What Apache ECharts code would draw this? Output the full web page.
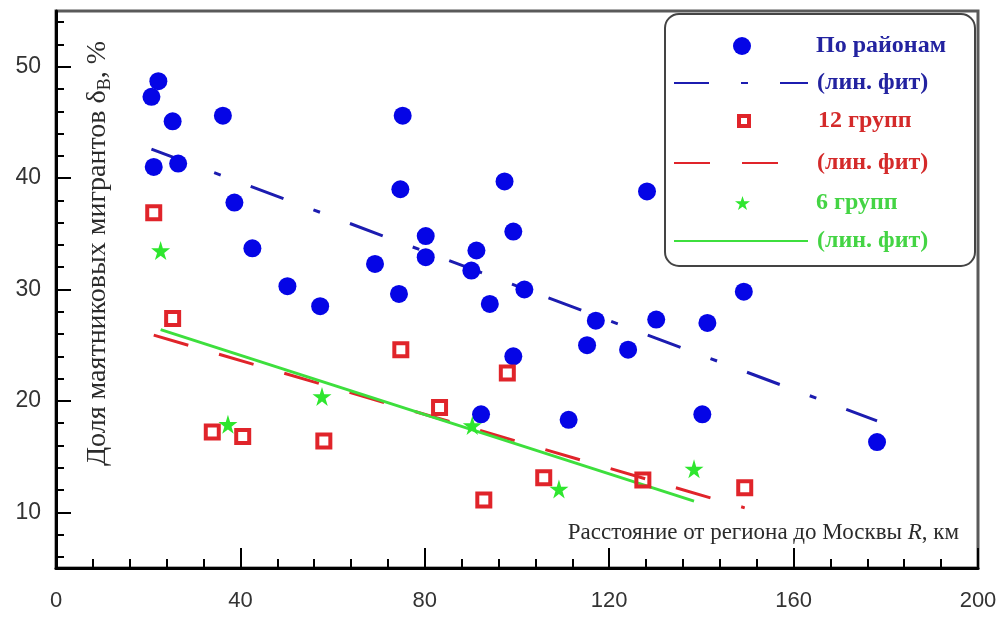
<!DOCTYPE html>
<html><head><meta charset="utf-8">
<script src="https://cdn.jsdelivr.net/npm/echarts@6/dist/echarts.min.js"></script>
<style>html,body{margin:0;padding:0;background:#fff}#c{width:1003px;height:617px}</style>
</head><body><div id="c"></div>
<script>
// ---- tick labels ----
const yMajorTicks = [10, 20, 30, 40, 50];
const yMinorTicks = [6, 8, 12, 14, 16, 18, 22, 24, 26, 28, 32, 34, 36, 38, 42, 44, 46, 48, 52, 54];

// ---- По районам (districts) ----
const districtsR = [20.7, 21.2, 22.2, 25.3, 26.5, 36.2, 38.7, 42.6, 50.2, 57.3, 69.2, 74.4, 74.7, 75.2, 80.2, 80.2, 90.1, 91.2, 92.2, 94.1, 97.3, 99.2, 99.2, 101.6, 111.2, 115.2, 117.1, 124.1, 128.2, 130.2, 140.2, 141.3, 149.2, 178.1];
const districtsShare = [47.3, 41.0, 48.7, 45.1, 41.3, 45.6, 37.8, 33.7, 30.3, 28.5, 32.3, 29.6, 39.0, 45.6, 34.8, 32.9, 31.7, 33.5, 18.8, 28.7, 39.7, 35.2, 24.0, 30.0, 18.3, 25.0, 27.2, 24.6, 38.8, 27.3, 18.8, 27.0, 29.8, 16.3];

// ---- 12 групп ----
const groups12R = [21.2, 25.3, 33.9, 40.5, 58.1, 74.8, 83.2, 92.8, 97.9, 105.8, 127.3, 149.4];
const groups12Share = [36.9, 27.4, 17.2, 16.8, 16.4, 24.6, 19.4, 11.1, 22.5, 13.1, 12.9, 12.2];

// ---- 6 групп ----
const groups6R = [22.7, 37.3, 57.7, 90.3, 109.1, 138.4];
const groups6Share = [33.5, 17.9, 20.4, 17.8, 12.1, 13.9];

// ---- linear fits (end points) ----
const fitDistrictsR = [20.7, 178.1];
const fitDistrictsShare = [42.6, 18.2];
const fit12R = [21.2, 149.4];
const fit12Share = [25.9, 10.4];
const fit6R = [22.7, 138.4];
const fit6Share = [26.4, 11.0];

const zip = (a, b) => a.map((v, i) => [v, b[i]]);

const BLUE = '#0505e6', BLUE_LINE = '#1c1cb0', BLUE_TEXT = '#2323a0';
const RED = '#e0242a', RED_TEXT = '#d42a2a';
const GREEN = '#2ee62e', GREEN_LINE = '#3ddf3d', GREEN_TEXT = '#44d444';
const STAR = 'path://M50,0 L61,35 L98,35 L68,57 L79,91 L50,70 L21,91 L32,57 L2,35 L39,35 Z';

const FIT = '(лин. фит)';
const nFitB = FIT + ' По районам', nFitR = FIT + ' 12 групп', nFitG = FIT + ' 6 групп';
const HIDE = { color: 'rgba(0,0,0,0)', borderColor: 'rgba(0,0,0,0)', borderWidth: 0 };

function mkLegend(item, left, top, w, h, color, padLeft, fmt) {
  const l = {
    data: [item], left: left, top: top, itemWidth: w, itemHeight: h, padding: 0,
    selectedMode: false, symbolKeepAspect: true,
    textStyle: {
      color: color, fontFamily: 'Liberation Serif', fontWeight: 'bold', fontSize: 24,
      lineHeight: 28, padding: [0, 0, 0, padLeft]
    }
  };
  if (fmt) l.formatter = fmt;
  return l;
}

const chart = echarts.init(document.getElementById('c'), null, {renderer: 'canvas'});
chart.setOption({
  animation: false,
  backgroundColor: '#fff',
  grid: {
    left: 56, right: 25, top: 11, bottom: 49, show: true,
    borderColor: '#5a5a5a', borderWidth: 3, containLabel: false, outerBoundsMode: 'none'
  },
  xAxis: {
    type: 'value', min: 0, max: 200, interval: 40,
    name: '{t|Расстояние от региона до Москвы }{i|R}{t|, км}',
    nameLocation: 'end', nameGap: -19, nameMoveOverlap: false,
    nameTextStyle: {
      fontFamily: 'Liberation Serif', fontSize: 23, color: '#2b2b2b',
      align: 'right', verticalAlign: 'middle', padding: [0, 0, 70, 0],
      rich: { t: {}, i: { fontStyle: 'italic' } }
    },
    axisLine: { show: true, lineStyle: { color: '#000', width: 3 } },
    axisTick: { show: true, inside: true, length: 20, lineStyle: { color: '#000', width: 2 } },
    minorTick: { show: true, splitNumber: 5, length: 9, lineStyle: { color: '#000', width: 2 } },
    axisLabel: { fontFamily: 'Liberation Sans', fontSize: 22, color: '#333', margin: 22 },
    splitLine: { show: false }
  },
  yAxis: [{
    type: 'value', min: 5, max: 55, position: 'left',
    name: '{t|Доля маятниковых мигрантов δ}{s|В}{t|, %}',
    nameLocation: 'middle', nameGap: -42, nameMoveOverlap: false,
    nameTextStyle: {
      fontFamily: 'Liberation Serif', fontSize: 28, color: '#2b2b2b',
      verticalAlign: 'middle', align: 'center', padding: [0, 0, 0, 72],
      rich: { t: { lineHeight: 32 }, s: { fontSize: 18, lineHeight: 14, verticalAlign: 'bottom' } }
    },
    axisLine: { show: true, lineStyle: { color: '#000', width: 3 } },
    axisTick: { show: true, inside: true, length: 15, customValues: yMajorTicks, lineStyle: { color: '#000', width: 2 } },
    axisLabel: { customValues: yMajorTicks, fontFamily: 'Liberation Sans', fontSize: 23, color: '#333', margin: 15 },
    splitLine: { show: false }
  }, {
    type: 'value', min: 5, max: 55, position: 'left',
    axisLine: { show: false },
    axisTick: { show: true, inside: true, length: 8, customValues: yMinorTicks, lineStyle: { color: '#000', width: 2 } },
    axisLabel: { show: false },
    splitLine: { show: false }
  }],
  legend: [
    mkLegend({ name: 'По районам', icon: 'circle', itemStyle: { color: BLUE, opacity: 1 } }, 733, 32, 18, 18, BLUE_TEXT, 60),
    mkLegend({ name: nFitB, itemStyle: HIDE }, 673, 69, 134, 14, BLUE_TEXT, 4, FIT),
    mkLegend({ name: '12 групп', icon: 'rect', itemStyle: { color: 'rgba(0,0,0,0)', borderColor: RED, borderWidth: 4, opacity: 1 } }, 737, 107, 10, 10, RED_TEXT, 64),
    mkLegend({ name: nFitR, itemStyle: HIDE }, 673, 149, 134, 14, RED_TEXT, 4, FIT),
    mkLegend({ name: '6 групп', icon: STAR, itemStyle: { color: GREEN, opacity: 1 } }, 735, 189, 15, 15, GREEN_TEXT, 61),
    mkLegend({ name: nFitG, itemStyle: HIDE }, 673, 227, 134, 14, GREEN_TEXT, 4, FIT)
  ],
  graphic: [{
    type: 'rect', z: 3, silent: true,
    shape: { x: 665, y: 14, width: 310, height: 252, r: 14 },
    style: { fill: '#fff', stroke: '#444', lineWidth: 2 }
  }],
  series: [
    { name: nFitB, type: 'line', data: zip(fitDistrictsR, fitDistrictsShare), symbol: 'none', z: 2,
      itemStyle: { color: BLUE_LINE },
      lineStyle: { color: BLUE_LINE, width: 3, type: [35, 32, 7, 32], cap: 'butt' } },
    { name: nFitR, type: 'line', data: zip(fit12R, fit12Share), symbol: 'none', z: 2,
      itemStyle: { color: RED },
      lineStyle: { color: RED, width: 3, type: [36, 32], cap: 'butt' } },
    { name: nFitG, type: 'line', data: zip(fit6R, fit6Share), symbol: 'none', z: 2,
      itemStyle: { color: GREEN_LINE },
      lineStyle: { color: GREEN_LINE, width: 3, type: 'solid' } },
    { name: 'По районам', type: 'scatter', data: zip(districtsR, districtsShare), symbol: 'circle', symbolSize: 18, z: 3,
      itemStyle: { color: BLUE, opacity: 1 } },
    { name: '12 групп', type: 'scatter', data: zip(groups12R, groups12Share), symbol: 'rect', symbolSize: 13, z: 3,
      itemStyle: { color: 'rgba(0,0,0,0)', borderColor: RED, borderWidth: 4, opacity: 1 } },
    { name: '6 групп', type: 'scatter', data: zip(groups6R, groups6Share), symbol: STAR, symbolSize: 19, z: 3,
      itemStyle: { color: GREEN, opacity: 1 } }
  ]
});
</script>
</body></html>
